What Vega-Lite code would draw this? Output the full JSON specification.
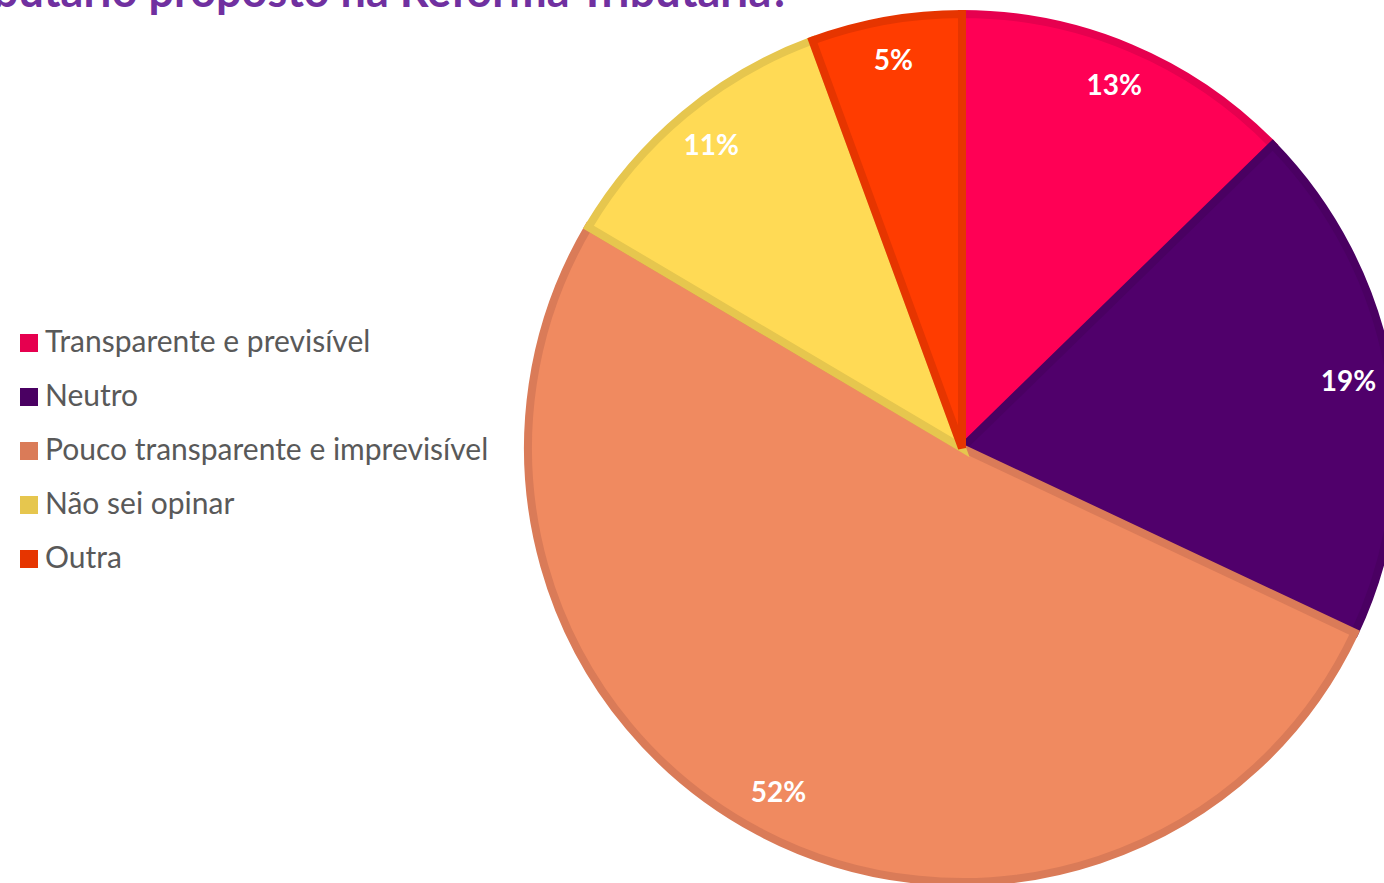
{
  "$schema": "https://vega.github.io/schema/vega-lite/v6.json",
  "autosize": "none",
  "width": 844,
  "height": 868,
  "padding": {"left": 540, "top": 14, "right": 0, "bottom": 1},
  "background": "white",
  "title": {
    "text": "tributário proposto na Reforma Tributária?",
    "anchor": "start",
    "frame": "group",
    "orient": "top",
    "font": "Lato",
    "fontSize": 45,
    "fontWeight": "bold",
    "color": "#7030A0",
    "dx": -592,
    "dy": 18,
    "offset": 0
  },
  "data": {
    "values": [
      {"categoria": "Transparente e previsível", "valor": 12.7, "rotulo": "13%", "ordem": 1},
      {"categoria": "Neutro", "valor": 19.3, "rotulo": "19%", "ordem": 2},
      {"categoria": "Pouco transparente e imprevisível", "valor": 51.5, "rotulo": "52%", "ordem": 3},
      {"categoria": "Não sei opinar", "valor": 10.9, "rotulo": "11%", "ordem": 4},
      {"categoria": "Outra", "valor": 5.6, "rotulo": "5%", "ordem": 5}
    ]
  },
  "encoding": {
    "theta": {"field": "valor", "type": "quantitative", "stack": true},
    "order": {"field": "ordem", "type": "quantitative"}
  },
  "layer": [
    {
      "mark": {"type": "arc", "radius": 434, "strokeWidth": 8, "strokeJoin": "miter"},
      "encoding": {
        "fill": {
          "field": "categoria",
          "type": "nominal",
          "scale": {
            "domain": ["Transparente e previsível", "Neutro", "Pouco transparente e imprevisível", "Não sei opinar", "Outra"],
            "range": ["#FF0055", "#50006B", "#F08A60", "#FFDA55", "#FF3C00"]
          },
          "legend": {
            "orient": "none",
            "legendX": -526,
            "legendY": 314,
            "title": null,
            "symbolType": "square",
            "symbolSize": 81,
            "symbolStrokeWidth": 9,
            "symbolOpacity": 1,
            "labelFont": "Lato",
            "labelFontSize": 30,
            "labelColor": "#595959",
            "labelOffset": 1,
            "rowPadding": 8,
            "padding": 0,
            "labelLimit": 600
          }
        },
        "stroke": {
          "field": "categoria",
          "type": "nominal",
          "scale": {
            "domain": ["Transparente e previsível", "Neutro", "Pouco transparente e imprevisível", "Não sei opinar", "Outra"],
            "range": ["#E6004F", "#4A0062", "#DA7B58", "#E6C64E", "#E63500"]
          },
          "legend": {
            "orient": "none",
            "legendX": -526,
            "legendY": 314,
            "title": null,
            "symbolType": "square",
            "symbolSize": 81,
            "symbolStrokeWidth": 9,
            "symbolOpacity": 1,
            "labelFont": "Lato",
            "labelFontSize": 30,
            "labelColor": "#595959",
            "labelOffset": 1,
            "rowPadding": 8,
            "padding": 0,
            "labelLimit": 600
          }
        }
      }
    },
    {
      "mark": {"type": "text", "radius": 392, "font": "Lato", "fontSize": 28, "fontWeight": "bold", "fill": "white", "align": "center", "baseline": "middle"},
      "encoding": {
        "detail": {"field": "categoria", "type": "nominal"},
        "text": {"field": "rotulo", "type": "nominal"}
      }
    }
  ],
  "config": {"view": {"stroke": null}}
}
